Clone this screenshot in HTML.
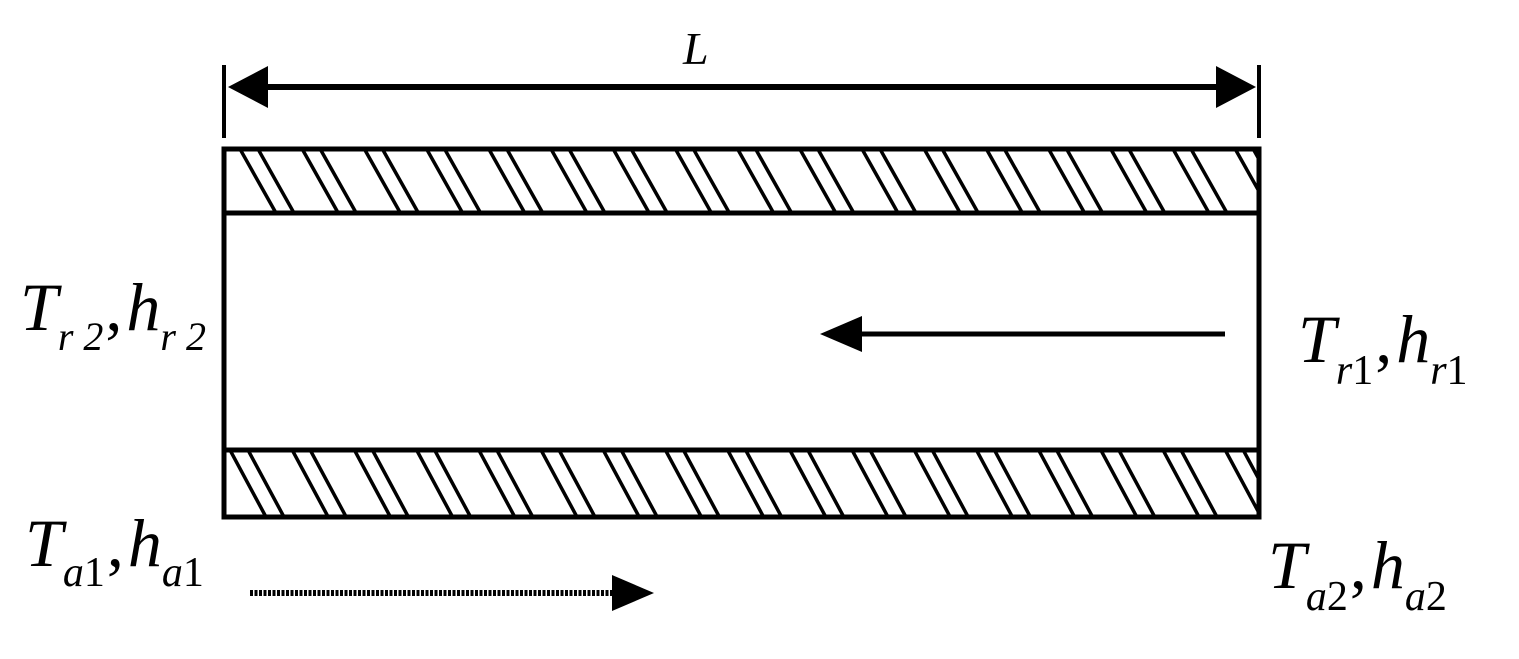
<!DOCTYPE html>
<html><head><meta charset="utf-8"><style>
html,body{margin:0;padding:0;background:#fff;}
svg{display:block}
text{font-family:"Liberation Serif","Times New Roman",Times,serif;font-style:italic;fill:#000}
</style></head><body>
<svg id="s" width="1519" height="659" viewBox="0 0 1519 659" xmlns="http://www.w3.org/2000/svg">
<defs>
<clipPath id="c1"><rect x="224" y="150" width="1035" height="62"/></clipPath>
<clipPath id="c2"><rect x="224" y="452" width="1035" height="64"/></clipPath>
</defs>
<g id="h1" clip-path="url(#c1)" stroke="#000" stroke-width="3.5"></g>
<g id="h2" clip-path="url(#c2)" stroke="#000" stroke-width="3.5"></g>
<g stroke="#000" fill="none" stroke-width="5">
<rect x="224" y="149" width="1035" height="64"/>
<rect x="224" y="450" width="1035" height="67"/>
<line x1="224" y1="213" x2="224" y2="450"/>
<line x1="1259" y1="213" x2="1259" y2="450"/>
<line x1="224" y1="65" x2="224" y2="138" stroke-width="4"/>
<line x1="1259" y1="65" x2="1259" y2="138" stroke-width="4"/>
<line x1="260" y1="87" x2="1222" y2="87" stroke-width="6"/>
<line x1="855" y1="334" x2="1225" y2="334" stroke-width="5"/>
<line x1="250" y1="593" x2="615" y2="593" stroke-width="6" stroke-dasharray="3 1.5"/>
</g>
<g fill="#000">
<polygon points="228,87 268,66 268,108"/>
<polygon points="1256,87 1216,66 1216,108"/>
<polygon points="820,334 862,316 862,352"/>
<polygon points="654,593 612,575 612,611"/>
</g>
<g font-family="Liberation Serif, Times New Roman, serif">
<text x="683" y="64" font-size="46">L</text>
<text x="20" y="330" font-size="68">T<tspan font-size="40" dy="20">r 2</tspan><tspan dy="-20" font-style="normal" dx="2">,</tspan><tspan dx="4">h</tspan><tspan font-size="40" dy="20">r 2</tspan></text>
<text x="1298" y="362" font-size="68">T<tspan font-size="42" dy="22">r</tspan><tspan font-size="42" font-style="normal">1</tspan><tspan dy="-22" font-style="normal" dx="2">,</tspan><tspan dx="4">h</tspan><tspan font-size="42" dy="22">r</tspan><tspan font-size="42" font-style="normal">1</tspan></text>
<text x="25" y="566" font-size="68">T<tspan font-size="42" dy="20">a</tspan><tspan font-size="42" font-style="normal">1</tspan><tspan dy="-20" font-style="normal" dx="2">,</tspan><tspan dx="4">h</tspan><tspan font-size="42" dy="20">a</tspan><tspan font-size="42" font-style="normal">1</tspan></text>
<text x="1268" y="588" font-size="68">T<tspan font-size="42" dy="22">a</tspan><tspan font-size="42" font-style="normal">2</tspan><tspan dy="-22" font-style="normal" dx="2">,</tspan><tspan dx="4">h</tspan><tspan font-size="42" dy="22">a</tspan><tspan font-size="42" font-style="normal">2</tspan></text>
</g>
</svg>
<script>
var ns="http://www.w3.org/2000/svg";
function hatch(id,y0,y1,start){
 var g=document.getElementById(id);
 for(var x=start;x<1300;x+=62.2){
  [0,18].forEach(function(o){
   var l=document.createElementNS(ns,"line");
   l.setAttribute("x1",x+o);l.setAttribute("y1",y0);
   l.setAttribute("x2",x+o+36);l.setAttribute("y2",y1);
   g.appendChild(l);
  });
 }
}
hatch("h1",149,213,240);
hatch("h2",450,517,230);
</script>
</body></html>
